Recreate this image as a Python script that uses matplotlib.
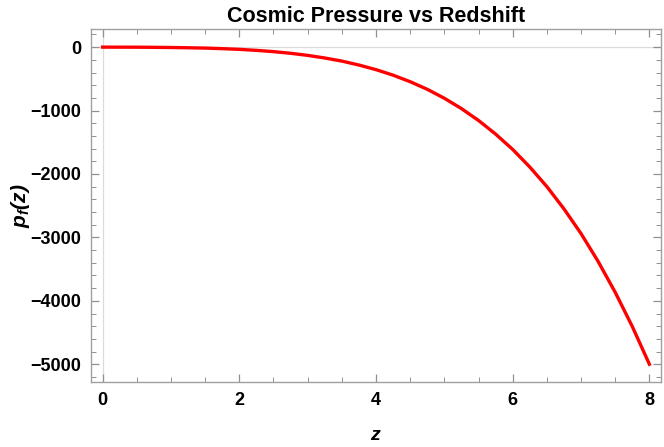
import matplotlib
matplotlib.use("Agg")
import matplotlib.pyplot as plt
from matplotlib.ticker import MultipleLocator

# values
z_vals = [0, 0.25, 0.5, 0.75, 1, 1.25, 1.5, 1.75, 2, 2.25, 2.5, 2.75, 3, 3.25,
          3.5, 3.75, 4, 4.25, 4.5, 4.75, 5, 5.25, 5.5, 5.75, 6, 6.25, 6.5,
          6.75, 7, 7.25, 7.5, 7.75, 8]
p_vals = [0, -0.5, -1, -3, -6, -10, -15, -24, -35, -51, -71, -97, -130, -171,
          -220, -282, -355, -442, -545, -665, -806, -969, -1156, -1371, -1613,
          -1890, -2199, -2550, -2940, -3379, -3866, -4405, -5000]
x_ticks = [0, 2, 4, 6, 8]
y_ticks = [0, -1000, -2000, -3000, -4000, -5000]

plt.rcParams['font.family'] = ['Liberation Sans', 'DejaVu Sans']
plt.rcParams['mathtext.fontset'] = 'custom'
plt.rcParams['mathtext.it'] = 'Liberation Sans:italic:bold'
plt.rcParams['mathtext.rm'] = 'Liberation Sans:italic:bold'

fig = plt.figure(figsize=(6.64, 4.47), dpi=100)
ax = fig.add_axes([0.137, 0.1454, 0.8585, 0.7896])

# light axes lines through the origin
ax.axhline(0, color='#dcdcdc', lw=0.9, zorder=1)
ax.axvline(0, color='#dcdcdc', lw=0.9, zorder=1)

ax.plot(z_vals, p_vals, color='#ff0000', lw=2.4, zorder=3)

ax.set_xlim(-0.17, 8.17)
ax.set_ylim(-5280, 285)
ax.set_xticks(x_ticks)
ax.set_yticks(y_ticks)
ax.set_yticklabels(['0', '\u22121000', '\u22122000', '\u22123000', '\u22124000', '\u22125000'])
ax.xaxis.set_minor_locator(MultipleLocator(0.5))
ax.yaxis.set_minor_locator(MultipleLocator(200))

for s in ax.spines.values():
    s.set_color('#a0a0a0')
    s.set_linewidth(1.0)

ax.tick_params(which='both', direction='in', top=True, right=True, color='#909090')
ax.tick_params(which='major', length=6, width=0.9, labelsize=13, pad=7)
ax.tick_params(which='minor', length=3.5, width=0.7)
for lbl in ax.get_xticklabels() + ax.get_yticklabels():
    lbl.set_fontweight('bold')

ax.set_title('Cosmic Pressure vs Redshift', fontsize=15.5, fontweight='bold', pad=5)
ax.set_xlabel('$z$', fontsize=14, labelpad=13)
ax.set_ylabel('$p_f(z)$', fontsize=15)
ax.yaxis.set_label_coords(-0.103, 0.5)

fig.savefig('out.png', dpi=100)
